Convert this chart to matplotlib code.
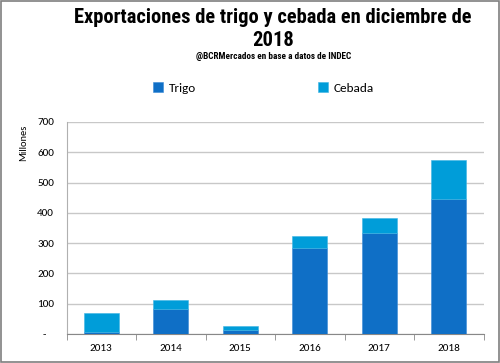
import matplotlib
matplotlib.use("Agg")
import matplotlib.pyplot as plt
from matplotlib.patches import Rectangle

years = ["2013", "2014", "2015", "2016", "2017", "2018"]
trigo = [8, 83, 12, 284, 335, 446]
cebada = [60, 28, 15, 39, 49, 128]
yticks = [0, 100, 200, 300, 400, 500, 600, 700]
ytick_labels = ["-   ", "100", "200", "300", "400", "500", "600", "700"]

c_trigo = "#0F6FC6"
c_cebada = "#009DD9"
body_font = ["Carlito", "DejaVu Sans"]
title_font = ["Roboto Condensed", "DejaVu Sans"]

fig = plt.figure(figsize=(5.0, 3.63), dpi=100)
fig.patches.append(Rectangle((0.002, 0.003), 0.995, 0.994, transform=fig.transFigure,
                             fill=False, edgecolor="#7f7f7f", linewidth=1.2))
ax = fig.add_axes([0.133, 0.08, 0.834, 0.584])

x = range(len(years))
ax.bar(x, trigo, width=0.5, color=c_trigo, edgecolor="#3a8ad6", linewidth=0.4, label="Trigo", zorder=3)
ax.bar(x, cebada, width=0.5, bottom=trigo, color=c_cebada, edgecolor="#40b5e3", linewidth=0.4, label="Cebada", zorder=3)

ax.set_xlim(-0.5, 5.5)
ax.set_ylim(0, 700)
ax.set_yticks(yticks)
ax.set_yticklabels(ytick_labels, fontsize=8, family=body_font)
ax.set_xticks(list(x))
ax.set_xticklabels(years, fontsize=8, family=body_font)
ax.tick_params(axis="y", length=0, pad=9)
ax.tick_params(axis="x", length=0, pad=7)
ax.set_xticks([i + 0.5 for i in range(-1, 6)], minor=True)
ax.tick_params(axis="x", which="minor", length=4, color="#888888", direction="out")
ax.grid(axis="y", color="#c8c8c8", linewidth=1.0, zorder=0)
for s in ["top", "right"]:
    ax.spines[s].set_visible(False)
ax.spines["left"].set_color("#b0b0b0")
ax.spines["bottom"].set_color("#888888")
ax.set_ylabel("Millones", fontsize=7.5, family=body_font)
ax.yaxis.set_label_coords(-0.093, 0.90)

fig.text(0.546, 0.953, "Exportaciones de trigo y cebada en diciembre de", ha="center", va="center",
         fontsize=14.8, fontweight="bold", family=title_font)
fig.text(0.546, 0.888, "2018", ha="center", va="center",
         fontsize=14.8, fontweight="bold", family=title_font)
fig.text(0.548, 0.843, "@BCRMercados en base a datos de INDEC", ha="center", va="center",
         fontsize=6.7, fontweight="bold", family=title_font)

leg = fig.legend(loc="center", bbox_to_anchor=(0.527, 0.757), ncol=2, frameon=False,
                 prop={"family": body_font, "size": 9.5}, handlelength=0.75, handleheight=0.75,
                 columnspacing=9.3, handletextpad=0.4)

fig.savefig("out.png", dpi=100)
